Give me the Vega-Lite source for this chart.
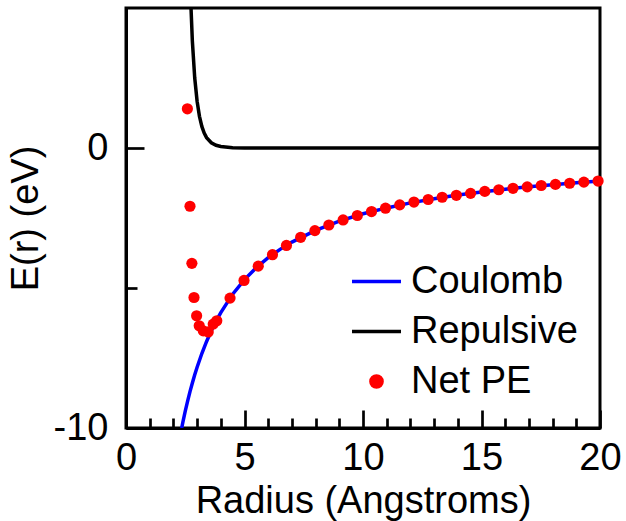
{
  "$schema": "https://vega.github.io/schema/vega-lite/v6.json",
  "width": 474,
  "height": 420,
  "autosize": {"type": "none"},
  "padding": {"left": 126, "top": 8, "right": 26, "bottom": 93},
  "config": {
    "font": "Liberation Sans",
    "view": {"stroke": "#000000", "strokeWidth": 3},
    "axis": {
      "grid": false,
      "labelFont": "Liberation Sans",
      "labelFontSize": 38,
      "labelColor": "#000000",
      "labelFlush": false,
      "titleFont": "Liberation Sans",
      "titleFontSize": 38,
      "titleFontWeight": "normal",
      "titleColor": "#000000",
      "domainColor": "#000000",
      "domainWidth": 3,
      "tickColor": "#000000",
      "tickWidth": 2.7
    },
    "legend": {"labelFont": "Liberation Sans"}
  },
  "data": {
    "values": [
      {"series": "Coulomb", "r": 2.35, "E": -10.0},
      {"series": "Coulomb", "r": 2.4, "E": -9.79},
      {"series": "Coulomb", "r": 2.5, "E": -9.4},
      {"series": "Coulomb", "r": 2.6, "E": -9.04},
      {"series": "Coulomb", "r": 2.7, "E": -8.7},
      {"series": "Coulomb", "r": 2.8, "E": -8.39},
      {"series": "Coulomb", "r": 2.9, "E": -8.1},
      {"series": "Coulomb", "r": 3.0, "E": -7.83},
      {"series": "Coulomb", "r": 3.2, "E": -7.34},
      {"series": "Coulomb", "r": 3.4, "E": -6.91},
      {"series": "Coulomb", "r": 3.6, "E": -6.53},
      {"series": "Coulomb", "r": 3.8, "E": -6.18},
      {"series": "Coulomb", "r": 4.0, "E": -5.88},
      {"series": "Coulomb", "r": 4.5, "E": -5.22},
      {"series": "Coulomb", "r": 5.0, "E": -4.7},
      {"series": "Coulomb", "r": 5.5, "E": -4.27},
      {"series": "Coulomb", "r": 6.0, "E": -3.92},
      {"series": "Coulomb", "r": 6.5, "E": -3.62},
      {"series": "Coulomb", "r": 7.0, "E": -3.36},
      {"series": "Coulomb", "r": 8.0, "E": -2.94},
      {"series": "Coulomb", "r": 9.0, "E": -2.61},
      {"series": "Coulomb", "r": 10.0, "E": -2.35},
      {"series": "Coulomb", "r": 11.0, "E": -2.14},
      {"series": "Coulomb", "r": 12.0, "E": -1.96},
      {"series": "Coulomb", "r": 13.0, "E": -1.81},
      {"series": "Coulomb", "r": 14.0, "E": -1.68},
      {"series": "Coulomb", "r": 15.0, "E": -1.57},
      {"series": "Coulomb", "r": 16.0, "E": -1.47},
      {"series": "Coulomb", "r": 17.0, "E": -1.38},
      {"series": "Coulomb", "r": 18.0, "E": -1.31},
      {"series": "Coulomb", "r": 19.0, "E": -1.24},
      {"series": "Coulomb", "r": 20.0, "E": -1.18},
      {"series": "Repulsive", "r": 2.7, "E": 5.9},
      {"series": "Repulsive", "r": 2.8, "E": 3.82},
      {"series": "Repulsive", "r": 2.9, "E": 2.5},
      {"series": "Repulsive", "r": 3.0, "E": 1.67},
      {"series": "Repulsive", "r": 3.1, "E": 1.13},
      {"series": "Repulsive", "r": 3.2, "E": 0.77},
      {"series": "Repulsive", "r": 3.3, "E": 0.53},
      {"series": "Repulsive", "r": 3.4, "E": 0.37},
      {"series": "Repulsive", "r": 3.6, "E": 0.187},
      {"series": "Repulsive", "r": 3.8, "E": 0.098},
      {"series": "Repulsive", "r": 4.0, "E": 0.053},
      {"series": "Repulsive", "r": 4.5, "E": 0.013},
      {"series": "Repulsive", "r": 5.0, "E": 0.003},
      {"series": "Repulsive", "r": 6.0, "E": 0.0},
      {"series": "Repulsive", "r": 10.0, "E": 0.0},
      {"series": "Repulsive", "r": 15.0, "E": 0.0},
      {"series": "Repulsive", "r": 20.0, "E": 0.0},
      {"series": "Net PE", "r": 2.59, "E": 1.4},
      {"series": "Net PE", "r": 2.7, "E": -2.08},
      {"series": "Net PE", "r": 2.78, "E": -4.12},
      {"series": "Net PE", "r": 2.87, "E": -5.34},
      {"series": "Net PE", "r": 2.98, "E": -5.99},
      {"series": "Net PE", "r": 3.09, "E": -6.35},
      {"series": "Net PE", "r": 3.26, "E": -6.53},
      {"series": "Net PE", "r": 3.47, "E": -6.57},
      {"series": "Net PE", "r": 3.68, "E": -6.29},
      {"series": "Net PE", "r": 3.83, "E": -6.17},
      {"series": "Net PE", "r": 4.39, "E": -5.36},
      {"series": "Net PE", "r": 4.98, "E": -4.73},
      {"series": "Net PE", "r": 5.58, "E": -4.22},
      {"series": "Net PE", "r": 6.18, "E": -3.81},
      {"series": "Net PE", "r": 6.77, "E": -3.48},
      {"series": "Net PE", "r": 7.37, "E": -3.19},
      {"series": "Net PE", "r": 7.97, "E": -2.95},
      {"series": "Net PE", "r": 8.56, "E": -2.75},
      {"series": "Net PE", "r": 9.16, "E": -2.57},
      {"series": "Net PE", "r": 9.76, "E": -2.41},
      {"series": "Net PE", "r": 10.36, "E": -2.27},
      {"series": "Net PE", "r": 10.95, "E": -2.15},
      {"series": "Net PE", "r": 11.55, "E": -2.03},
      {"series": "Net PE", "r": 12.15, "E": -1.93},
      {"series": "Net PE", "r": 12.75, "E": -1.84},
      {"series": "Net PE", "r": 13.34, "E": -1.76},
      {"series": "Net PE", "r": 13.94, "E": -1.69},
      {"series": "Net PE", "r": 14.54, "E": -1.62},
      {"series": "Net PE", "r": 15.14, "E": -1.55},
      {"series": "Net PE", "r": 15.73, "E": -1.49},
      {"series": "Net PE", "r": 16.33, "E": -1.44},
      {"series": "Net PE", "r": 16.93, "E": -1.39},
      {"series": "Net PE", "r": 17.52, "E": -1.34},
      {"series": "Net PE", "r": 18.12, "E": -1.3},
      {"series": "Net PE", "r": 18.72, "E": -1.26},
      {"series": "Net PE", "r": 19.32, "E": -1.22},
      {"series": "Net PE", "r": 19.92, "E": -1.18}
    ]
  },
  "layer": [
    {
      "transform": [{"filter": "datum.series !== 'Net PE'"}],
      "mark": {"type": "line", "clip": true, "strokeWidth": 3.5},
      "encoding": {
        "x": {
          "field": "r",
          "type": "quantitative",
          "scale": {"domain": [0, 20], "nice": false},
          "axis": {
            "orient": "bottom",
            "title": "Radius (Angstroms)",
            "values": [0, 5, 10, 15, 20],
            "tickSize": -18,
            "labelPadding": 29,
            "titlePadding": 5
          }
        },
        "y": {
          "field": "E",
          "type": "quantitative",
          "scale": {"domain": [-10, 5], "nice": false},
          "axis": {
            "orient": "left",
            "title": "E(r) (eV)",
            "values": [-10, 0],
            "labelExpr": "'' + datum.value",
            "tickSize": -18,
            "labelPadding": 36,
            "titlePadding": 8
          }
        },
        "color": {
          "field": "series",
          "type": "nominal",
          "scale": {
            "domain": ["Coulomb", "Repulsive", "Net PE"],
            "range": ["#0000ff", "#000000", "#ff0000"]
          },
          "legend": {
            "orient": "none",
            "legendX": 224,
            "legendY": 247,
            "title": null,
            "labelFontSize": 38,
            "labelColor": "#000000",
            "labelLimit": 400,
            "labelOffset": 8,
            "rowPadding": 4,
            "symbolType": "stroke",
            "symbolSize": 2400,
            "symbolStrokeWidth": 3.5,
            "encode": {
              "symbols": {
                "update": {
                  "shape": {"signal": "datum.value === 'Net PE' ? 'circle' : 'stroke'"},
                  "size": {"signal": "datum.value === 'Net PE' ? 125 : 2400"},
                  "fill": {"signal": "datum.value === 'Net PE' ? '#ff0000' : 'transparent'"},
                  "stroke": {"signal": "datum.value === 'Coulomb' ? '#0000ff' : datum.value === 'Repulsive' ? '#000000' : 'transparent'"},
                  "strokeWidth": {"value": 3.5},
                  "opacity": {"value": 1}
                }
              }
            }
          }
        }
      }
    },
    {
      "transform": [{"filter": "datum.series === 'Net PE'"}],
      "mark": {"type": "point", "filled": true, "size": 125, "opacity": 1},
      "encoding": {
        "x": {
          "field": "r",
          "type": "quantitative",
          "scale": {"domain": [0, 20], "nice": false},
          "axis": {
            "orient": "bottom",
            "title": null,
            "values": [1, 2, 3, 4, 6, 7, 8, 9, 11, 12, 13, 14, 16, 17, 18, 19],
            "labels": false,
            "domain": false,
            "tickSize": -10
          }
        },
        "y": {
          "field": "E",
          "type": "quantitative",
          "scale": {"domain": [-10, 5], "nice": false},
          "axis": {
            "orient": "left",
            "title": null,
            "values": [-5],
            "labels": false,
            "domain": false,
            "tickSize": -11
          }
        },
        "color": {"field": "series", "type": "nominal"}
      }
    }
  ],
  "resolve": {"axis": {"x": "independent", "y": "independent"}}
}
